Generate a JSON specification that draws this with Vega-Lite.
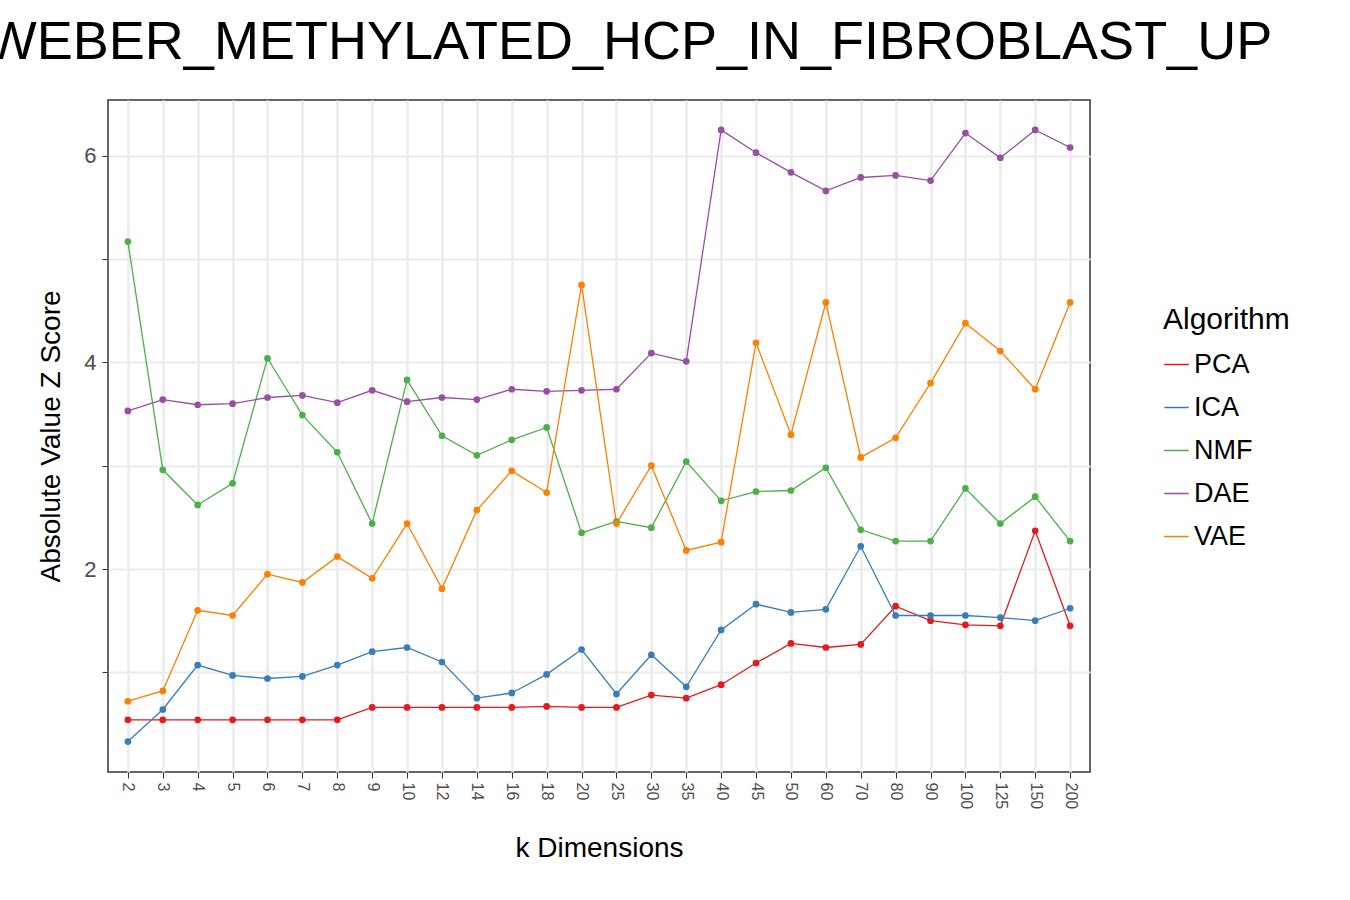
{
  "$schema": "https://vega.github.io/schema/vega-lite/v6.json",
  "autosize": "none",
  "width": 982,
  "height": 672,
  "padding": {"left": 108, "top": 100, "right": 260, "bottom": 128},
  "background": "white",
  "config": {
    "font": "Liberation Sans",
    "view": {"stroke": "#333333", "strokeWidth": 1.5},
    "title": {"fontSize": 54, "fontWeight": "normal", "color": "black", "offset": 30}
  },
  "title": {"text": "WEBER_METHYLATED_HCP_IN_FIBROBLAST_UP", "anchor": "middle", "dx": 30},
  "datasets": {
    "z": [
      {"k":"2","PCA":0.54,"ICA":0.33,"NMF":5.17,"DAE":3.53,"VAE":0.72},
      {"k":"3","PCA":0.54,"ICA":0.64,"NMF":2.96,"DAE":3.64,"VAE":0.82},
      {"k":"4","PCA":0.54,"ICA":1.07,"NMF":2.62,"DAE":3.59,"VAE":1.60},
      {"k":"5","PCA":0.54,"ICA":0.97,"NMF":2.83,"DAE":3.60,"VAE":1.55},
      {"k":"6","PCA":0.54,"ICA":0.94,"NMF":4.04,"DAE":3.66,"VAE":1.95},
      {"k":"7","PCA":0.54,"ICA":0.96,"NMF":3.49,"DAE":3.68,"VAE":1.87},
      {"k":"8","PCA":0.54,"ICA":1.07,"NMF":3.13,"DAE":3.61,"VAE":2.12},
      {"k":"9","PCA":0.66,"ICA":1.20,"NMF":2.44,"DAE":3.73,"VAE":1.91},
      {"k":"10","PCA":0.66,"ICA":1.24,"NMF":3.83,"DAE":3.62,"VAE":2.44},
      {"k":"12","PCA":0.66,"ICA":1.10,"NMF":3.29,"DAE":3.66,"VAE":1.81},
      {"k":"14","PCA":0.66,"ICA":0.75,"NMF":3.10,"DAE":3.64,"VAE":2.57},
      {"k":"16","PCA":0.66,"ICA":0.80,"NMF":3.25,"DAE":3.74,"VAE":2.95},
      {"k":"18","PCA":0.67,"ICA":0.98,"NMF":3.37,"DAE":3.72,"VAE":2.74},
      {"k":"20","PCA":0.66,"ICA":1.22,"NMF":2.35,"DAE":3.73,"VAE":4.75},
      {"k":"25","PCA":0.66,"ICA":0.79,"NMF":2.46,"DAE":3.74,"VAE":2.44},
      {"k":"30","PCA":0.78,"ICA":1.17,"NMF":2.40,"DAE":4.09,"VAE":3.00},
      {"k":"35","PCA":0.75,"ICA":0.86,"NMF":3.04,"DAE":4.01,"VAE":2.18},
      {"k":"40","PCA":0.88,"ICA":1.41,"NMF":2.66,"DAE":6.25,"VAE":2.26},
      {"k":"45","PCA":1.09,"ICA":1.66,"NMF":2.75,"DAE":6.03,"VAE":4.19},
      {"k":"50","PCA":1.28,"ICA":1.58,"NMF":2.76,"DAE":5.84,"VAE":3.30},
      {"k":"60","PCA":1.24,"ICA":1.61,"NMF":2.98,"DAE":5.66,"VAE":4.58},
      {"k":"70","PCA":1.27,"ICA":2.22,"NMF":2.38,"DAE":5.79,"VAE":3.08},
      {"k":"80","PCA":1.64,"ICA":1.55,"NMF":2.27,"DAE":5.81,"VAE":3.27},
      {"k":"90","PCA":1.50,"ICA":1.55,"NMF":2.27,"DAE":5.76,"VAE":3.80},
      {"k":"100","PCA":1.46,"ICA":1.55,"NMF":2.78,"DAE":6.22,"VAE":4.38},
      {"k":"125","PCA":1.45,"ICA":1.53,"NMF":2.44,"DAE":5.98,"VAE":4.11},
      {"k":"150","PCA":2.37,"ICA":1.50,"NMF":2.70,"DAE":6.25,"VAE":3.74},
      {"k":"200","PCA":1.45,"ICA":1.62,"NMF":2.27,"DAE":6.08,"VAE":4.58}
    ]
  },
  "data": {"name": "z"},
  "transform": [
    {"fold": ["PCA", "ICA", "NMF", "DAE", "VAE"], "as": ["Algorithm", "value"]}
  ],
  "encoding": {
    "x": {
      "field": "k", "type": "ordinal", "sort": null,
      "scale": {"type": "point", "padding": 0.57},
      "title": "k Dimensions",
      "axis": {
        "grid": true,
        "labelAngle": 90, "labelFontSize": 16, "labelColor": "#4d4d4d", "labelPadding": 4,
        "titleFontSize": 28, "titleFontWeight": "normal", "titleColor": "black", "titlePadding": 26,
        "gridColor": "#ebebeb", "gridWidth": 2.5, "domain": false, "tickColor": "#333333", "tickSize": 6
      }
    },
    "y": {
      "field": "value", "type": "quantitative",
      "scale": {"domain": [0.035, 6.54], "nice": false, "zero": false},
      "title": "Absolute Value Z Score",
      "axis": {
        "values": [1, 2, 3, 4, 5, 6],
        "labelExpr": "datum.value % 2 == 0 ? datum.label : ''",
        "labelFontSize": 22, "labelColor": "#4d4d4d", "labelPadding": 6,
        "titleFontSize": 28, "titleFontWeight": "normal", "titleColor": "black", "titlePadding": 18,
        "gridColor": "#ebebeb", "gridWidth": 2,
        "domain": false, "tickColor": "#333333", "tickSize": 6
      }
    },
    "color": {
      "field": "Algorithm", "type": "nominal",
      "scale": {"domain": ["PCA", "ICA", "NMF", "DAE", "VAE"], "range": ["#e41a1c", "#377eb8", "#4daf4a", "#984ea3", "#ff7f00"]},
      "legend": {
        "orient": "none", "legendX": 1055, "legendY": 205,
        "titleFontSize": 30, "titleFontWeight": "normal", "titleColor": "black", "titlePadding": 16,
        "labelFontSize": 27, "labelColor": "black", "symbolType": "stroke", "symbolSize": 600,
        "symbolStrokeWidth": 1.5, "rowPadding": 15
      }
    }
  },
  "layer": [
    {"mark": {"type": "line", "strokeWidth": 1.3}},
    {"mark": {"type": "circle", "size": 45, "opacity": 1}}
  ]
}
